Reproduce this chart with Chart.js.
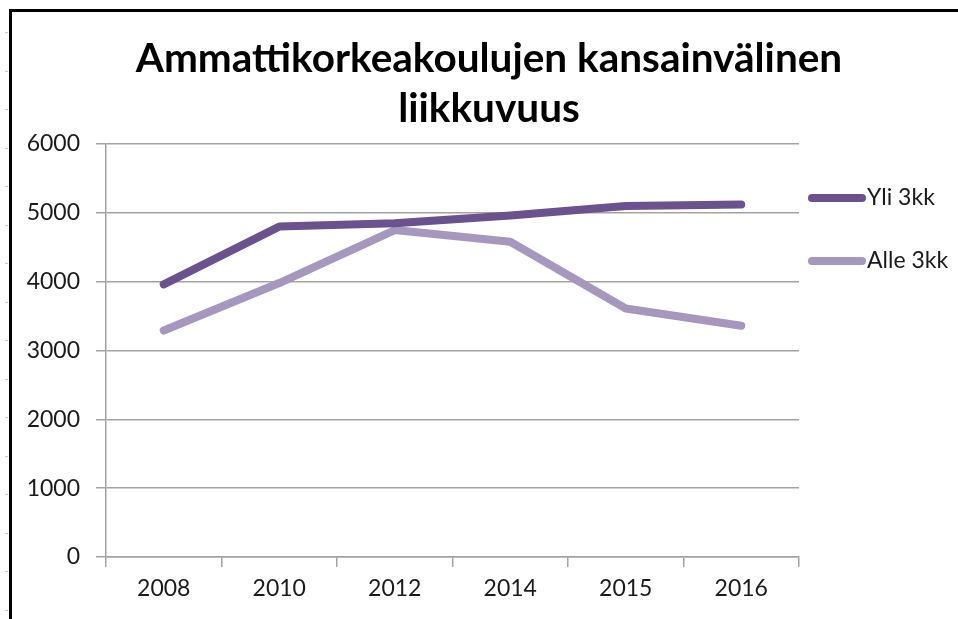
<!DOCTYPE html>
<html>
<head>
<meta charset="utf-8">
<script src="https://cdn.jsdelivr.net/npm/chart.js@4.4.0/dist/chart.umd.min.js"></script>
<style>
  html, body { margin: 0; padding: 0; background: #ffffff; }
  #wrap { width: 958px; height: 619px; position: relative; }
</style>
</head>
<body>
<div id="wrap"><canvas id="c" width="958" height="619"></canvas></div>
<script>
const titleLines = ["Ammattikorkeakoulujen kansainvälinen", "liikkuvuus"];
const categories = ["2008", "2010", "2012", "2014", "2015", "2016"];
const seriesNames = ["Yli 3kk", "Alle 3kk"];
const yliValues = [3960, 4800, 4850, 4960, 5100, 5120];
const alleValues = [3290, 3980, 4750, 4580, 3610, 3360];
const yTicks = [0, 1000, 2000, 3000, 4000, 5000, 6000];
const colors = ["#6a528f", "#a597be"];

const FONT = "Lato, 'Open Sans', 'DejaVu Sans', sans-serif";

const decorPlugin = {
  id: 'decor',
  beforeDraw(chart) {
    const ctx = chart.ctx;
    ctx.save();
    ctx.fillStyle = '#ffffff';
    ctx.fillRect(0, 0, chart.width, chart.height);
    // small ruler marks outside the frame
    ctx.strokeStyle = '#c8c8c8';
    ctx.lineWidth = 1;
    for (let y = 32; y < chart.height; y += 38.5) {
      ctx.beginPath(); ctx.moveTo(5, Math.round(y) + 0.5); ctx.lineTo(8, Math.round(y) + 0.5); ctx.stroke();
    }
    // frame
    ctx.strokeStyle = '#000000';
    ctx.lineWidth = 3;
    ctx.beginPath();
    ctx.moveTo(10.5, chart.height + 5);
    ctx.lineTo(10.5, 10.5);
    ctx.lineTo(chart.width + 5, 10.5);
    ctx.stroke();
    ctx.restore();
  },
  afterDraw(chart) {
    const ctx = chart.ctx;
    ctx.save();
    // title
    ctx.fillStyle = '#000000';
    ctx.font = "bold 40.5px " + FONT;
    ctx.textAlign = 'center';
    ctx.textBaseline = 'alphabetic';
    ctx.fillText(titleLines[0], 489, 72);
    ctx.fillText(titleLines[1], 489, 122);
    // legend
    ctx.font = "23px " + FONT;
    ctx.textAlign = 'left';
    ctx.textBaseline = 'middle';
    chart.data.datasets.forEach((ds, i) => {
      const y = 198 + i * 63;
      ctx.strokeStyle = ds.borderColor;
      ctx.lineWidth = 8;
      ctx.lineCap = 'round';
      ctx.beginPath(); ctx.moveTo(812, y); ctx.lineTo(862, y); ctx.stroke();
      ctx.fillStyle = '#1a1a1a';
      ctx.fillText(ds.label, 867, y);
    });
    ctx.restore();
  }
};

new Chart(document.getElementById('c'), {
  type: 'line',
  data: {
    labels: categories,
    datasets: [
      { label: seriesNames[0], data: yliValues, borderColor: colors[0], backgroundColor: colors[0] },
      { label: seriesNames[1], data: alleValues, borderColor: colors[1], backgroundColor: colors[1] }
    ]
  },
  options: {
    responsive: false,
    animation: false,
    devicePixelRatio: 1,
    layout: { padding: { left: 0, right: 159, top: 144, bottom: 0 } },
    elements: {
      line: { borderWidth: 8, tension: 0, borderCapStyle: 'round', borderJoinStyle: 'round' },
      point: { radius: 0, hoverRadius: 0 }
    },
    plugins: {
      legend: { display: false },
      title: { display: false },
      tooltip: { enabled: false }
    },
    scales: {
      x: {
        type: 'category',
        offset: true,
        afterFit(scale) { scale.height = 62; },
        grid: { display: true, drawOnChartArea: false, offset: true, tickLength: 10, color: '#a3a3a3', lineWidth: 1.5 },
        border: { display: true, color: '#a3a3a3', width: 1.5 },
        ticks: { color: '#1a1a1a', font: { family: FONT, size: 23 }, padding: 8, maxRotation: 0 }
      },
      y: {
        min: 0, max: 6000,
        afterFit(scale) { scale.width = 106; },
        afterBuildTicks(scale) { scale.ticks = yTicks.map(v => ({ value: v })); },
        grid: { display: true, drawOnChartArea: true, tickLength: 10, color: '#a3a3a3', lineWidth: 1.5 },
        border: { display: true, color: '#a3a3a3', width: 1.5 },
        ticks: { color: '#1a1a1a', font: { family: FONT, size: 23 }, padding: 16, callback: (v) => String(v) }
      }
    }
  },
  plugins: [decorPlugin]
});
</script>
</body>
</html>
